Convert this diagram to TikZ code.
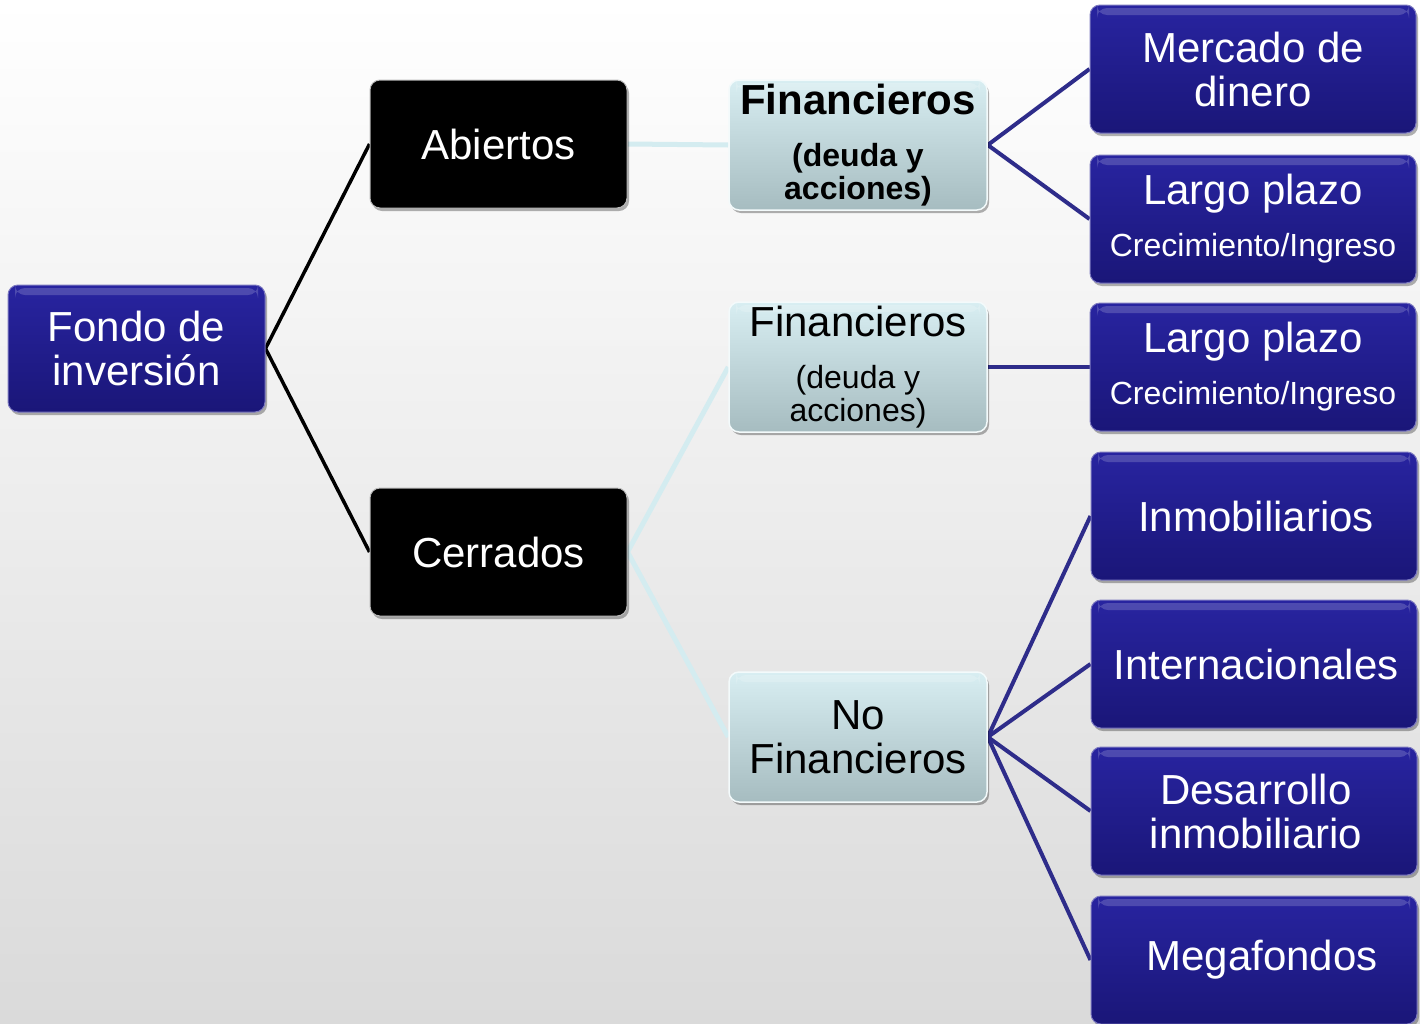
\documentclass[tikz,border=0pt]{standalone}
\usepackage{fontspec}
\setmainfont{Liberation Sans}
\usetikzlibrary{shadows}
\definecolor{navy}{RGB}{36,32,150}
\definecolor{navytop}{RGB}{40,36,160}
\definecolor{navybot}{RGB}{26,22,120}
\definecolor{paletop}{RGB}{216,238,242}
\definecolor{palebot}{RGB}{166,188,192}
\definecolor{paleline}{RGB}{212,236,240}
\definecolor{blueline}{RGB}{46,44,138}
\definecolor{bgbot}{RGB}{218,218,218}
\pgfdeclarelayer{bg}
\pgfdeclarelayer{edges}
\pgfsetlayers{bg,edges,main}
\tikzset{
  box/.style={rectangle, rounded corners=10pt, inner sep=0pt, align=center,
    drop shadow={shadow xshift=2pt, shadow yshift=-3pt, opacity=0.3, fill=black}},
  gloss/.style={path picture={\fill[white,opacity=0.18]
      ([xshift=7pt,yshift=-3pt]path picture bounding box.north west) rectangle
      ([xshift=-7pt,yshift=-10pt]path picture bounding box.north east);}},
  bluebox/.style={box, gloss, top color=navytop, bottom color=navybot, draw=navy!60!white,
    line width=1pt, text=white, minimum width=326pt, minimum height=128pt},
  blackbox/.style={box, fill=black, draw=gray!55, line width=1pt, text=white,
    minimum width=257pt, minimum height=128pt},
  palebox/.style={box, gloss, top color=paletop, bottom color=palebot, draw=white!70!paletop,
    line width=1.5pt, text=black, minimum width=258pt, minimum height=130pt},
  big/.style={font=\fontsize{42}{44}\selectfont},
  mixed/.style={font=\fontsize{32}{33}\selectfont},
  darkedge/.style={draw=black, line width=3.5pt},
  paleedge/.style={draw=paleline, line width=5pt},
  blueedge/.style={draw=blueline, line width=4pt},
}
\newcommand{\bigline}[1]{{\fontsize{42}{44}\selectfont #1}}
\begin{document}
\begin{tikzpicture}[x=1pt, y=-1pt]
\begin{pgfonlayer}{bg}
  \shade[top color=white, bottom color=bgbot] (0,0) rectangle (1420,1023);
\end{pgfonlayer}
\useasboundingbox (0,0) rectangle (1420,1023);

\node[bluebox, big, minimum width=257pt, minimum height=127pt] (fondo) at (136.5,348.5) {Fondo de\\inversión};
\node[blackbox, big] (abiertos) at (498.5,144) {Abiertos};
\node[blackbox, big] (cerrados) at (498.5,552) {Cerrados};

\node[palebox, font=\fontsize{32}{33}\selectfont\bfseries] (fin1) at (858,145) {\bigline{Financieros}\\[19pt](deuda y\\acciones)};
\node[palebox, mixed] (fin2) at (858,367) {\bigline{Financieros}\\[19pt](deuda y\\acciones)};
\node[palebox, big] (nofin) at (858,737) {No\\Financieros};

\node[bluebox, big] (mercado) at (1253,69) {Mercado de\\dinero};
\node[bluebox, mixed] (largo1) at (1253,219) {\bigline{Largo plazo}\\[19pt]Crecimiento/Ingreso};
\node[bluebox, mixed] (largo2) at (1253,367) {\bigline{Largo plazo}\\[19pt]Crecimiento/Ingreso};
\node[bluebox, big] (inmob) at (1254,516) {\hspace*{4pt}Inmobiliarios};
\node[bluebox, big] (intern) at (1254,664) {\hspace*{4pt}Internacionales};
\node[bluebox, big] (desarr) at (1254,811) {\hspace*{4pt}Desarrollo\\\hspace*{4pt}inmobiliario};
\node[bluebox, big] (mega) at (1254,960) {\hspace*{16pt}Megafondos};

\begin{pgfonlayer}{edges}
  \draw[darkedge, line join=miter] (abiertos.west) -- (fondo.east) -- (cerrados.west);
  \draw[paleedge] (abiertos.east) -- (fin1.west);
  \draw[paleedge] (fin2.west) -- (cerrados.east) -- (nofin.west);
  \draw[blueedge] (mercado.west) -- (fin1.east) -- (largo1.west);
  \draw[blueedge] (fin2.east) -- (largo2.west);
  \draw[blueedge] (nofin.east) -- (inmob.west);
  \draw[blueedge] (nofin.east) -- (intern.west);
  \draw[blueedge] (nofin.east) -- (desarr.west);
  \draw[blueedge] (nofin.east) -- (mega.west);
\end{pgfonlayer}
\end{tikzpicture}
\end{document}
